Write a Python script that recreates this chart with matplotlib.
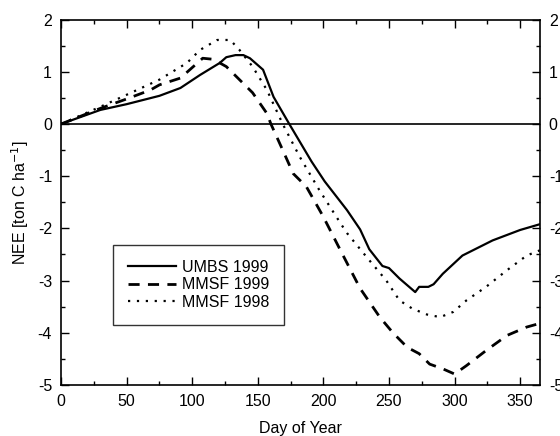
import matplotlib
matplotlib.use("Agg")
import matplotlib.pyplot as plt
from matplotlib.ticker import MultipleLocator

plt.rcParams["font.family"] = ["Liberation Sans", "DejaVu Sans"]
plt.rcParams["font.size"] = 11.5
plt.rcParams["axes.unicode_minus"] = False

umbs99_day = [0, 30, 50, 75, 91, 106, 121, 126, 133, 139, 144, 154, 162, 174,
              191, 201, 218, 228, 235, 245, 250, 258, 270, 273, 280, 284, 291,
              306, 329, 350, 365]
umbs99_nee = [0, 0.27, 0.38, 0.54, 0.69, 0.94, 1.17, 1.28, 1.32, 1.32, 1.26,
              1.04, 0.52, 0.0, -0.72, -1.1, -1.65, -2.02, -2.4, -2.72, -2.76,
              -2.96, -3.22, -3.12, -3.12, -3.07, -2.87, -2.52, -2.23, -2.03,
              -1.92]

mmsf99_day = [0, 30, 50, 68, 75, 91, 108, 116, 126, 136, 146, 157, 160, 169,
              177, 187, 196, 200, 213, 228, 243, 253, 264, 273, 281, 291, 300,
              309, 324, 340, 355, 365]
mmsf99_nee = [0, 0.3, 0.48, 0.65, 0.75, 0.88, 1.26, 1.24, 1.1, 0.85, 0.6, 0.2,
              0.0, -0.5, -0.95, -1.2, -1.6, -1.78, -2.42, -3.15, -3.7, -4.0,
              -4.28, -4.4, -4.6, -4.69, -4.79, -4.63, -4.34, -4.05, -3.89,
              -3.82]

mmsf98_day = [0, 30, 50, 75, 96, 106, 119, 129, 136, 146, 157, 164, 169, 182,
              197, 213, 218, 233, 248, 258, 268, 279, 289, 299, 309, 324, 340,
              355, 365]
mmsf98_nee = [0, 0.33, 0.56, 0.85, 1.17, 1.42, 1.61, 1.61, 1.42, 1.1, 0.65,
              0.27, 0.0, -0.63, -1.27, -1.9, -2.09, -2.55, -3.0, -3.38, -3.54,
              -3.65, -3.7, -3.6, -3.38, -3.12, -2.8, -2.52, -2.42]


def main():
    fig = plt.figure(figsize=(5.6, 4.36), dpi=100)
    ax = fig.add_axes([0.109, 0.117, 0.855, 0.838])

    ax.axhline(0, color="black", linewidth=1.2)
    ax.plot(umbs99_day, umbs99_nee, color="black", linewidth=1.6,
            label="UMBS 1999")
    ax.plot(mmsf99_day, mmsf99_nee, color="black", linewidth=2.0,
            linestyle=(0, (4, 3)), label="MMSF 1999")
    ax.plot(mmsf98_day, mmsf98_nee, color="black", linewidth=1.6,
            linestyle=(0, (1, 3)), label="MMSF 1998")

    ax.set_xlim(0, 365)
    ax.set_ylim(-5, 2)
    ax.xaxis.set_major_locator(MultipleLocator(50))
    ax.xaxis.set_minor_locator(MultipleLocator(25))
    ax.yaxis.set_major_locator(MultipleLocator(1))
    ax.yaxis.set_minor_locator(MultipleLocator(0.5))
    ax.tick_params(which="both", direction="in", top=True, right=True,
                   labelright=True, width=1, color="black")
    ax.tick_params(which="major", length=6, pad=6.5)
    ax.tick_params(which="minor", length=3)
    for s in ax.spines.values():
        s.set_linewidth(1.2)

    ax.set_xlabel("Day of Year", labelpad=8.5)
    ax.set_ylabel("NEE [ton C ha$^{-1}$]", labelpad=5)

    leg = ax.legend(loc="upper left", bbox_to_anchor=(0.109, 0.384),
                    borderaxespad=0, frameon=True, fancybox=False,
                    edgecolor="black", handlelength=3.0, handletextpad=0.35,
                    borderpad=0.95, labelspacing=0.15)
    leg.get_frame().set_linewidth(1.0)

    fig.savefig("out.png", dpi=100)
    plt.close(fig)


if __name__ == "__main__":
    main()
